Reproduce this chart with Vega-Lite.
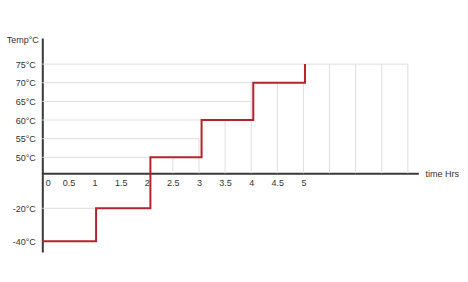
{
  "$schema": "https://vega.github.io/schema/vega-lite/v6.json",
  "autosize": "none",
  "width": 376,
  "height": 214,
  "padding": {"left": 42.3, "top": 38, "right": 49.7, "bottom": 30},
  "background": "white",
  "config": {
    "view": {"stroke": null},
    "font": "Liberation Sans",
    "axis": {"labelOverlap": false}
  },
  "datasets": {
    "hgrid": [
      {"temp": 75, "t": 0, "t2": 7},
      {"temp": 70, "t": 0, "t2": 5},
      {"temp": 65, "t": 0, "t2": 4},
      {"temp": 60, "t": 0, "t2": 3.05},
      {"temp": 55, "t": 0, "t2": 3},
      {"temp": 50, "t": 0, "t2": 2.07},
      {"temp": -20, "t": 0, "t2": 1.03}
    ],
    "vgrid": [
      {"t": 2.5, "temp": 0, "temp2": 50},
      {"t": 3, "temp": 0, "temp2": 55},
      {"t": 3.5, "temp": 0, "temp2": 60},
      {"t": 4, "temp": 0, "temp2": 70},
      {"t": 4.5, "temp": 0, "temp2": 70},
      {"t": 5, "temp": 0, "temp2": 70},
      {"t": 5.5, "temp": 0, "temp2": 75},
      {"t": 6, "temp": 0, "temp2": 75},
      {"t": 6.5, "temp": 0, "temp2": 75},
      {"t": 7, "temp": 0, "temp2": 75}
    ],
    "curve": [
      {"t": 0, "temp": -40},
      {"t": 1.03, "temp": -20},
      {"t": 2.07, "temp": 50},
      {"t": 3.05, "temp": 60},
      {"t": 4.04, "temp": 70},
      {"t": 5.03, "temp": 75}
    ]
  },
  "layer": [
    {
      "data": {"name": "hgrid"},
      "mark": {"type": "rule", "color": "#dedede", "strokeWidth": 1},
      "encoding": {
        "y": {
          "field": "temp",
          "type": "quantitative",
          "scale": {"domain": [-46.5, -20, 0, 50, 82], "range": [214, 170.3, 135.3, 119.3, 0], "nice": false, "zero": false},
          "axis": {
            "values": [75, 70, 65, 60, 55, 50, -20, -40],
            "tickCount": 30,
            "labelExpr": "datum.value + '°C'",
            "labelOverlap": false,
            "ticks": false,
            "grid": false,
            "domainColor": "#3a3a3a",
            "domainWidth": 2,
            "labelFontSize": 9,
            "labelColor": "#333",
            "labelPadding": 7,
            "title": "Temp°C",
            "titleAngle": 0,
            "titleAlign": "right",
            "titleBaseline": "middle",
            "titleX": -4,
            "titleY": 1.5,
            "titleFontSize": 9,
            "titleFontWeight": "normal",
            "titleColor": "#333"
          }
        },
        "x": {
          "field": "t",
          "type": "quantitative",
          "scale": {"domain": [0, 7.2], "nice": false, "zero": false},
          "axis": {
            "values": [0, 0.5, 1, 1.5, 2, 2.5, 3, 3.5, 4, 4.5, 5],
            "tickCount": 30,
            "labelExpr": "'' + datum.value",
            "labelOverlap": false,
            "offset": -78.7,
            "ticks": false,
            "grid": false,
            "domainColor": "#3a3a3a",
            "domainWidth": 2,
            "labelFontSize": 9,
            "labelColor": "#333",
            "labelPadding": 5,
            "labelFlush": true,
            "labelFlushOffset": -3,
            "title": "time Hrs",
            "titleAnchor": null,
            "titleAlign": "left",
            "titleBaseline": "middle",
            "titleX": 382.7,
            "titleY": 0,
            "titleFontSize": 9,
            "titleFontWeight": "normal",
            "titleColor": "#333"
          }
        },
        "x2": {"field": "t2"}
      }
    },
    {
      "data": {"name": "vgrid"},
      "mark": {"type": "rule", "color": "#dedede", "strokeWidth": 1},
      "encoding": {
        "x": {"field": "t", "type": "quantitative"},
        "y": {"field": "temp", "type": "quantitative"},
        "y2": {"field": "temp2"}
      }
    },
    {
      "data": {"name": "curve"},
      "mark": {"type": "line", "color": "#b3242c", "strokeWidth": 2, "interpolate": "step-after"},
      "encoding": {
        "x": {"field": "t", "type": "quantitative"},
        "y": {"field": "temp", "type": "quantitative"}
      }
    }
  ]
}
